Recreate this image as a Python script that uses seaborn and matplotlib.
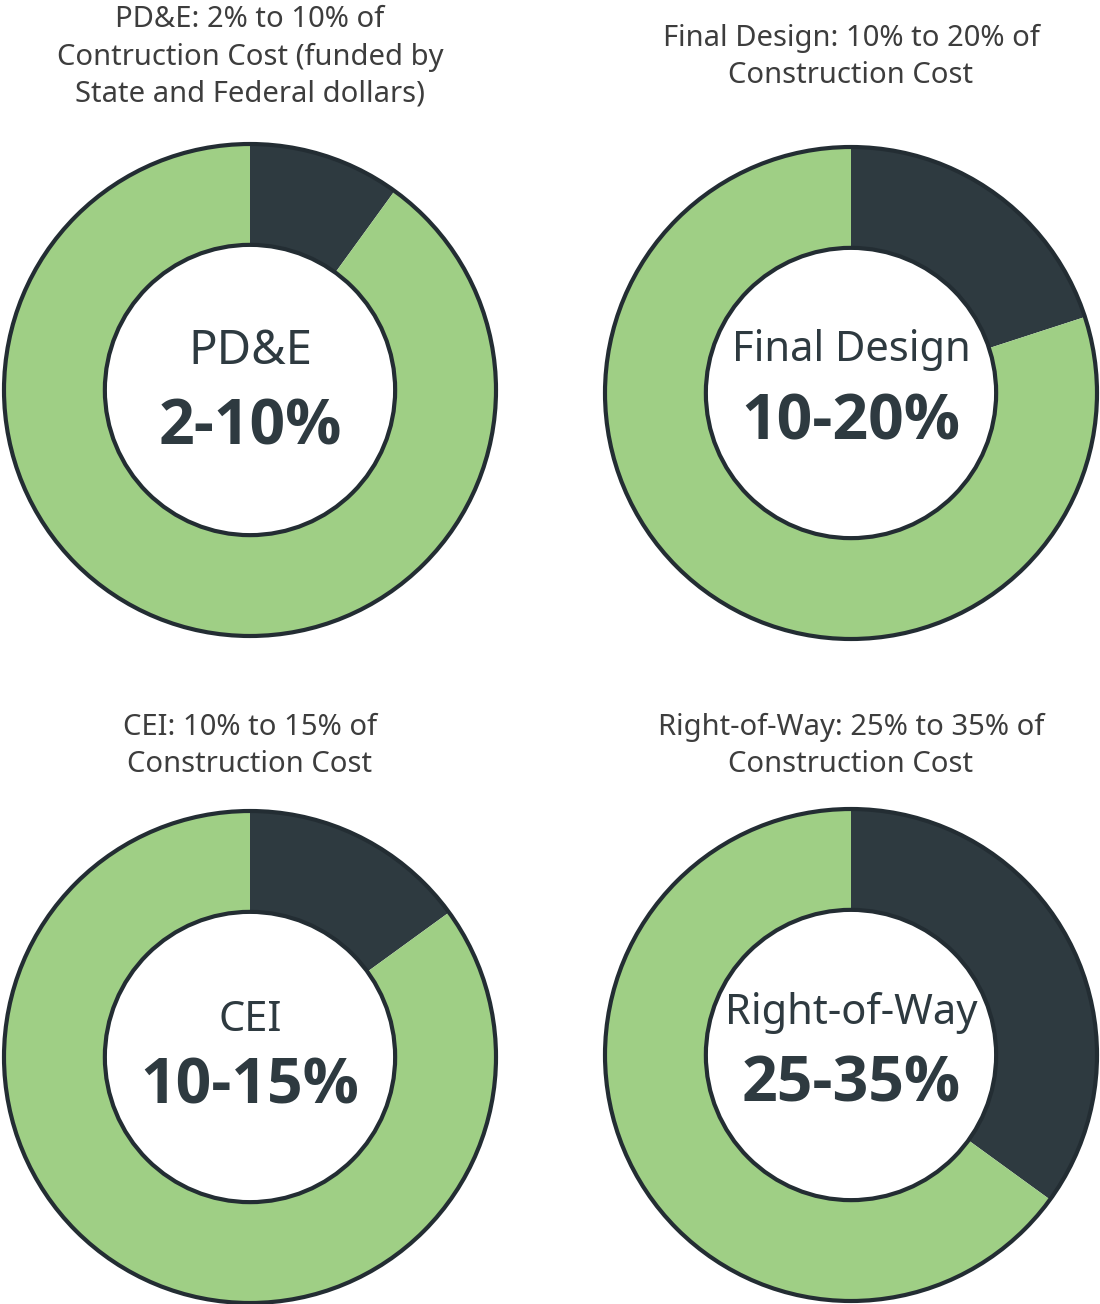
import matplotlib
matplotlib.use("Agg")
import matplotlib.pyplot as plt
import seaborn as sns
from matplotlib.patches import Circle

sns.set_style("white")
plt.rcParams['font.family'] = ['Noto Sans', 'DejaVu Sans']

# data
phases = ['PD&E', 'Final Design', 'CEI', 'Right-of-Way']
ranges = ['2-10%', '10-20%', '10-15%', '25-35%']
upper_share = [10, 20, 15, 35]
titles = ['PD&E: 2% to 10% of\nContruction Cost (funded by\nState and Federal dollars)',
          'Final Design: 10% to 20% of\nConstruction Cost',
          'CEI: 10% to 15% of\nConstruction Cost',
          'Right-of-Way: 25% to 35% of\nConstruction Cost']

DARK = '#2e3a40'
GREEN = '#9fcf85'
EDGE = '#232d33'
TEXT = '#3d3d3d'

W, H = 1100, 1304
fig = plt.figure(figsize=(W / 100, H / 100), dpi=100)

# centre positions (px) and radius of each donut
centres = [(250, 390), (851, 393), (250, 1057), (851, 1055)]
title_y = [57, 57, 746, 746]
label_dy = [(38, -38), (43, -30), (37, -30), (42, -30)]
label_size = [34, 30, 30, 30]
R = 246
lim = 1.03

for i, (cx, cy) in enumerate(centres):
    half = R * lim
    ax = fig.add_axes([(cx - half) / W, (H - cy - half) / H, 2 * half / W, 2 * half / H])
    ax.pie([upper_share[i], 100 - upper_share[i]], colors=[DARK, GREEN],
           startangle=90, counterclock=False, radius=1,
           wedgeprops=dict(width=0.41, linewidth=0))
    ax.add_patch(Circle((0, 0), 1, fill=False, edgecolor=EDGE, lw=3, zorder=3))
    ax.add_patch(Circle((0, 0), 0.59, facecolor='white', edgecolor=EDGE, lw=3, zorder=3))
    up, down = label_dy[i]
    ax.text(0, up / R, phases[i], ha='center', va='center', fontsize=label_size[i],
            color=DARK, zorder=4)
    ax.text(0, down / R, ranges[i], ha='center', va='center', fontsize=45,
            fontweight='bold', family=['Open Sans', 'DejaVu Sans'],
            color=DARK, zorder=4)
    ax.set_xlim(-lim, lim)
    ax.set_ylim(-lim, lim)
    ax.set_aspect('equal')
    ax.axis('off')

    fig.text(cx / W, 1 - title_y[i] / H, titles[i], ha='center', va='center',
             fontsize=21, color=TEXT, linespacing=1.38)

fig.savefig('out.png', dpi=100, facecolor='white')
